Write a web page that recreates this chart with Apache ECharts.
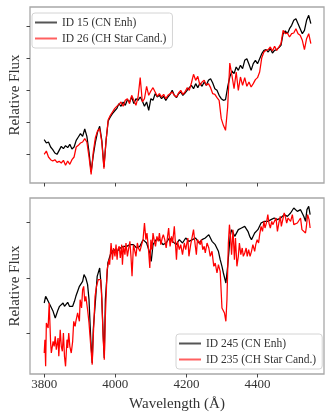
<!DOCTYPE html>
<html><head><meta charset="utf-8">
<script src="https://cdn.jsdelivr.net/npm/echarts@6/dist/echarts.min.js"></script>
<style>html,body{margin:0;padding:0;background:#fff}#c{width:331px;height:417px}</style>
</head><body><div id="c"></div>
<script>
// Top panel: common wavelength sampling grid (6 Å steps, 3800–4550 Å)
const wlTop = Array.from({length:126}, (_, i) => 3800 + 6 * i);
const fluxID15 = [.582,.572,.575,.560,.552,.542,.538,.550,.562,.555,.564,.558,.568,.554,.560,.580,.590,.600,.592,.614,
.592,.545,.485,.535,.575,.605,.622,.580,.500,.580,.638,.650,.660,.668,.675,.690,.682,.695,.685,.702,
.695,.710,.690,.705,.700,.710,.698,.682,.695,.670,.705,.700,.720,.710,.715,.705,.712,.700,.710,.718,
.730,.715,.708,.720,.725,.715,.722,.730,.738,.745,.735,.750,.738,.752,.742,.755,.745,.760,.765,.752,
.735,.730,.715,.705,.700,.702,.740,.770,.788,.780,.800,.790,.805,.795,.820,.825,.808,.790,.810,.820,
.810,.825,.840,.850,.852,.845,.855,.842,.850,.852,.858,.865,.900,.908,.900,.915,.925,.940,.945,.930,
.915,.900,.910,.940,.955,.930];
const fluxID26 = [.538,.548,.530,.522,.518,.522,.514,.517,.512,.520,.505,.518,.508,.522,.530,.560,.565,.572,.575,.585,
.575,.530,.478,.545,.588,.608,.615,.575,.495,.580,.642,.655,.665,.675,.682,.688,.695,.682,.700,.705,
.690,.715,.700,.685,.710,.768,.695,.705,.742,.715,.728,.738,.725,.712,.720,.710,.718,.705,.715,.720,
.725,.715,.710,.722,.730,.718,.725,.738,.730,.752,.778,.760,.772,.745,.755,.760,.745,.750,.738,.720,
.718,.708,.700,.645,.625,.610,.680,.812,.775,.735,.785,.730,.770,.745,.768,.742,.755,.740,.750,.762,
.768,.785,.828,.845,.850,.852,.860,.848,.862,.850,.860,.870,.910,.900,.902,.890,.900,.902,.915,.900,
.895,.880,.852,.885,.900,.870];
// Bottom panel
const wlID245 = [3800,3804,3809,3816,3825,3831,3839,3843,3848,3853,3857,3862,3866,3871,3876,3880,3885,3889,3894,3899,
3903,3908,3912,3917,3922,3926,3931,3935,3938,3945,3949,3956,3961,3966,3969,3972,3979,3986,3995,4005,
4014,4023,4032,4041,4051,4060,4069,4078,4088,4097,4101,4106,4115,4124,4134,4143,4152,4161,4171,4180,
4189,4198,4207,4217,4226,4235,4244,4253,4263,4267,4272,4281,4290,4295,4300,4304,4311,4316,4323,4327,
4336,4346,4355,4364,4373,4378,4383,4392,4401,4410,4419,4429,4438,4447,4456,4465,4475,4484,4493,4502,
4512,4521,4530,4535,4539,4544,4548];
const fluxID245 = [.660,.680,.670,.655,.635,.615,.640,.650,.645,.660,.650,.655,.662,.650,.645,.650,.665,.680,.695,.710,
.715,.725,.745,.735,.715,.670,.550,.480,.580,.680,.740,.765,.700,.560,.495,.670,.780,.805,.820,.815,
.825,.830,.830,.835,.835,.825,.830,.850,.840,.810,.785,.835,.850,.850,.835,.840,.855,.845,.835,.850,
.840,.855,.845,.850,.855,.840,.850,.855,.865,.870,.845,.835,.815,.790,.770,.750,.720,.770,.860,.880,
.860,.880,.885,.890,.875,.860,.850,.870,.880,.900,.905,.905,.910,.915,.910,.915,.925,.920,.930,.945,
.935,.940,.920,.905,.940,.950,.925];
const wlID235 = [3800,3802,3804,3806,3811,3814,3818,3820,3825,3828,3831,3834,3839,3841,3845,3848,3851,3854,3857,3860,
3864,3866,3869,3872,3876,3880,3883,3887,3889,3894,3899,3901,3905,3908,3911,3914,3917,3922,3926,3931,
3935,3938,3943,3947,3952,3956,3959,3962,3966,3969,3972,3977,3982,3984,3988,3992,3995,3999,4002,4005,
4007,4011,4014,4018,4020,4023,4027,4030,4034,4037,4041,4044,4047,4051,4054,4058,4062,4065,4069,4074,
4078,4082,4086,4089,4093,4097,4100,4103,4106,4110,4113,4117,4121,4124,4128,4132,4135,4139,4143,4147,
4150,4154,4158,4161,4166,4169,4172,4175,4180,4184,4189,4194,4198,4201,4204,4207,4212,4217,4220,4224,
4228,4231,4235,4239,4242,4246,4250,4253,4258,4263,4267,4272,4277,4281,4286,4290,4295,4300,4304,4307,
4311,4314,4318,4321,4324,4327,4331,4335,4338,4342,4346,4349,4353,4357,4360,4364,4368,4371,4375,4379,
4383,4387,4392,4395,4399,4403,4406,4410,4414,4418,4421,4425,4429,4432,4436,4440,4443,4447,4452,4456,
4460,4464,4467,4471,4475,4478,4482,4486,4489,4493,4498,4502,4507,4512,4516,4521,4525,4530,4535,4537,
4541,4545,4548];
const fluxID235 = [.510,.550,.470,.600,.585,.660,.540,.510,.545,.530,.560,.520,.555,.500,.580,.530,.515,.570,.500,.470,
.550,.525,.570,.530,.510,.545,.605,.590,.605,.630,.605,.670,.645,.700,.710,.665,.680,.640,.600,.530,
.475,.560,.680,.710,.730,.735,.730,.670,.550,.490,.620,.760,.790,.775,.840,.790,.825,.800,.835,.790,
.820,.830,.795,.835,.775,.830,.805,.840,.800,.820,.845,.800,.740,.835,.830,.800,.840,.825,.815,.835,
.850,.900,.850,.870,.825,.765,.850,.820,.870,.845,.830,.860,.845,.870,.835,.855,.865,.850,.825,.860,
.885,.830,.860,.840,.890,.840,.790,.845,.820,.835,.805,.840,.820,.825,.855,.800,.835,.840,.880,.840,
.805,.850,.845,.835,.850,.820,.830,.810,.840,.825,.800,.815,.770,.780,.750,.775,.755,.645,.650,.630,
.605,.670,.840,.895,.860,.805,.880,.790,.855,.770,.800,.840,.805,.825,.800,.810,.825,.800,.820,.800,
.815,.835,.815,.835,.850,.840,.865,.890,.875,.905,.885,.900,.925,.900,.885,.905,.895,.900,.915,.875,
.900,.920,.890,.910,.930,.920,.900,.915,.920,.905,.925,.895,.890,.900,.905,.915,.880,.875,.870,.885,
.925,.910,.885];
const names = ['ID 15 (CN Enh)','ID 26 (CH Star Cand.)','ID 245 (CN Enh)','ID 235 (CH Star Cand.)'];
const xTicks = [3800, 4000, 4200, 4400];
const yTicksTop = [0.538, 0.634, 0.730, 0.826, 0.922];
const yTicksBot = [0.568, 0.735, 0.903];

const zip = (a, b) => a.map((v, i) => [v, b[i]]);
const serif = 'Liberation Serif';
const frameCol = '#a8a8a8';
function xAxis(gi, labels) {
  return {
    type: 'value', gridIndex: gi, min: 3760, max: 4587,
    axisLine: {show: false}, splitLine: {show: false},
    axisTick: {show: true, customValues: xTicks, length: 3.5, lineStyle: {color: '#444', width: 1}},
    axisLabel: {show: labels, customValues: xTicks, formatter: v => String(v),
      fontFamily: serif, fontSize: 13, color: '#333', margin: 4},
    name: labels ? 'Wavelength (Å)' : '', nameLocation: 'middle', nameGap: 23,
    nameTextStyle: {fontFamily: serif, fontSize: 15, color: '#333'}
  };
}
function yAxis(gi, min, max, ticks) {
  return {
    type: 'value', gridIndex: gi, min: min, max: max,
    axisLine: {show: false}, splitLine: {show: false},
    axisTick: {show: true, customValues: ticks, length: 3.5, lineStyle: {color: '#444', width: 1}},
    axisLabel: {show: false, customValues: ticks},
    name: 'Relative Flux', nameLocation: 'middle', nameGap: 7, nameRotate: 90,
    nameTextStyle: {fontFamily: serif, fontSize: 15, color: '#333', verticalAlign: 'bottom'}
  };
}
function line(name, gi, data, color) {
  return {
    name: name, type: 'line', xAxisIndex: gi, yAxisIndex: gi, data: data,
    symbol: 'none', smooth: false, animation: false,
    lineStyle: {color: color, width: 1.25}, itemStyle: {color: color}
  };
}
function legend(left, top, items) {
  return {
    left: left, top: top, orient: 'vertical', icon: 'rect', itemWidth: 22, itemHeight: 2, itemGap: 3,
    itemTextGap: 8, padding: [3, 6, 3, 3],
    backgroundColor: '#fff', borderColor: '#d4d4d4', borderWidth: 1, borderRadius: 3,
    textStyle: {fontFamily: serif, fontSize: 11.5, color: '#333', lineHeight: 13},
    data: items
  };
}
const chart = echarts.init(document.getElementById('c'), null, {renderer: 'canvas'});
chart.setOption({
  animation: false,
  grid: [
    {left: 25, top: 7, width: 299, height: 176, show: true, borderColor: frameCol, borderWidth: 1.3, backgroundColor: 'transparent'},
    {left: 25, top: 198, width: 299, height: 176, show: true, borderColor: frameCol, borderWidth: 1.3, backgroundColor: 'transparent'}
  ],
  xAxis: [xAxis(0, false), xAxis(1, true)],
  yAxis: [yAxis(0, 0.452, 0.980, yTicksTop), yAxis(1, 0.447, 0.975, yTicksBot)],
  legend: [
    legend(32, 13, [{name: names[0], itemStyle: {color: '#555'}}, {name: names[1], itemStyle: {color: '#ff6060'}}]),
    legend(176, 334, [{name: names[2], itemStyle: {color: '#555'}}, {name: names[3], itemStyle: {color: '#ff6060'}}])
  ],
  series: [
    line(names[0], 0, zip(wlTop, fluxID15), '#000'),
    line(names[1], 0, zip(wlTop, fluxID26), '#ff0000'),
    line(names[2], 1, zip(wlID245, fluxID245), '#000'),
    line(names[3], 1, zip(wlID235, fluxID235), '#ff0000')
  ]
});
</script></body></html>
